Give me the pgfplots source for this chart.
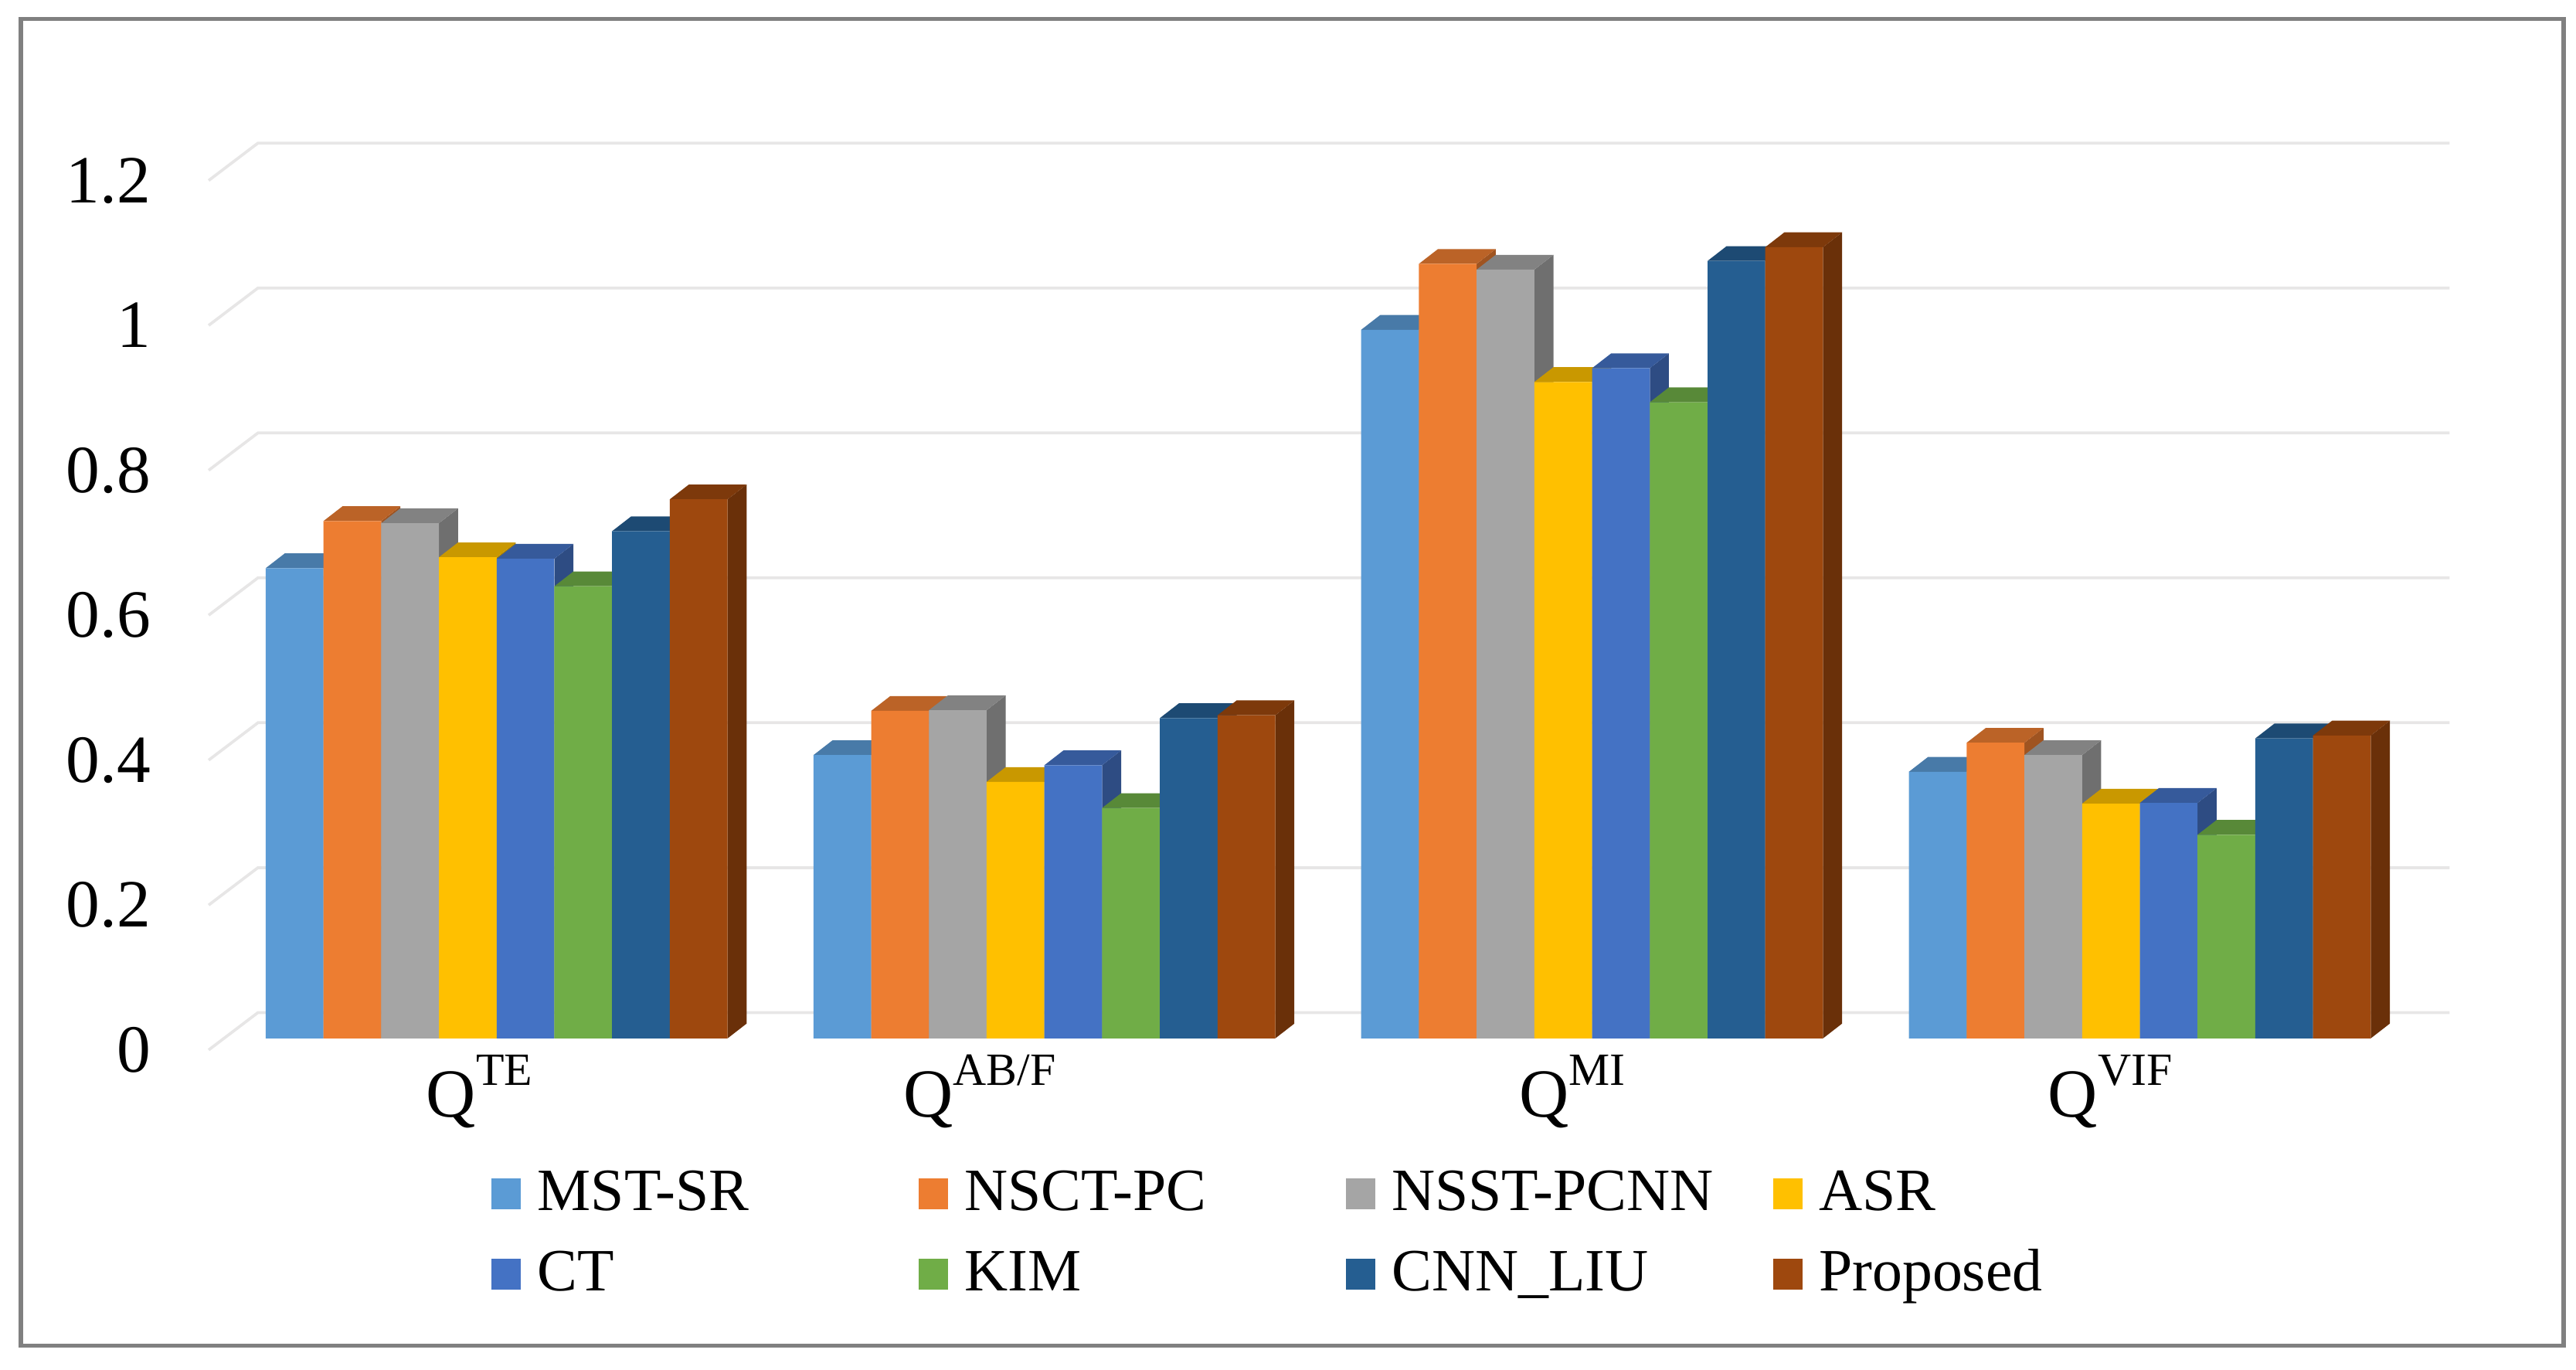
\documentclass[border=0pt]{standalone}
\usepackage{fontspec}
\setmainfont{Liberation Serif}
\usepackage{pgfplots}
\usepackage{pgfplotstable}
\pgfplotsset{compat=1.18}

\definecolor{cmst}{HTML}{5B9BD5}
\definecolor{cnsct}{HTML}{ED7D31}
\definecolor{cnsst}{HTML}{A5A5A5}
\definecolor{casr}{HTML}{FFC000}
\definecolor{cct}{HTML}{4472C4}
\definecolor{ckim}{HTML}{70AD47}
\definecolor{ccnn}{HTML}{255E91}
\definecolor{cprop}{HTML}{9E480E}
\definecolor{gridc}{HTML}{E7E6E6}

\pgfplotstableread{
group mst   nsct  nsst  asr   ct    kim   cnn   prop
0     0.649 0.714 0.711 0.664 0.662 0.624 0.700 0.744
1     0.391 0.452 0.453 0.354 0.377 0.318 0.442 0.446
2     0.978 1.069 1.061 0.906 0.925 0.878 1.073 1.092
3     0.368 0.408 0.391 0.324 0.325 0.281 0.414 0.418
}\scores

\newcommand{\barw}{0.1054}
\newcommand{\depthx}{0.0348}
\newcommand{\depthy}{0.0204}

% top and side face of one bar: column, slot in group, colour, row
\newcommand{\faces}[4]{%
  \pgfplotstablegetelem{#4}{#1}\of\scores
  \let\val\pgfplotsretval
  \pgfmathsetmacro\xl{#4+(#2-3.5)*\barw-\barw/2}
  \pgfmathsetmacro\xr{\xl+\barw}
  \pgfmathsetmacro\xlb{\xl+\depthx}
  \pgfmathsetmacro\xrb{\xr+\depthx}
  \pgfmathsetmacro\valb{\val+\depthy}
  \addplot[fill=#3!67!black,draw=none,forget plot] coordinates
    {(\xr,0) (\xrb,\depthy) (\xrb,\valb) (\xr,\val)} --cycle;
  \addplot[fill=#3!79!black,draw=none,forget plot] coordinates
    {(\xl,\val) (\xr,\val) (\xrb,\valb) (\xlb,\valb)} --cycle;
}
% column, slot in group, colour
\newcommand{\series}[3]{%
  \faces{#1}{#2}{#3}{0}\faces{#1}{#2}{#3}{1}\faces{#1}{#2}{#3}{2}\faces{#1}{#2}{#3}{3}
  \addplot[ybar,bar width=\barw,bar shift={(#2-3.5)*\barw},fill=#3,draw=none]
    table[x=group,y=#1]{\scores};
}
\newcommand{\wall}[1]{%
  \pgfmathsetmacro\ya{#1-0.016}
  \pgfmathsetmacro\yb{#1+0.0356}
  \addplot[gridc,line width=0.5pt,forget plot] coordinates
    {(-0.5258,\ya) (-0.4358,\yb) (3.5654,\yb)};
}
\newcommand{\qlabel}[2]{Q\raisebox{0.19cm}{\fontsize{8}{8}\selectfont #1}\hspace*{#2}}

\begin{document}
\begin{tikzpicture}
\path[use as bounding box] (0,0) rectangle (15.68,8.335);
\draw[color=gray,line width=0.7pt] (0.127,0.145) rectangle (15.605,8.22);
\begin{axis}[
    at={(1.27cm,2.015cm)},
    anchor=south west,
    scale only axis,
    width=13.64cm,
    height=5.5125cm,
    xmin=-0.5258,xmax=3.5654,
    ymin=0,ymax=1.25,
    clip=false,
    axis line style={draw=none},
    tick style={draw=none},
    xtick={0,1,2,3},
    xticklabels={\qlabel{TE}{0.21cm},\qlabel{AB/F}{0.79cm},\qlabel{MI}{0.24cm},\qlabel{VIF}{0.36cm}},
    xticklabel style={font=\fontsize{11.9}{14}\selectfont,anchor=base,yshift=-0.477cm},
    typeset ticklabels with strut,
    ytick={0,0.2,0.4,0.6,0.8,1,1.2},
    /pgf/number format/assume math mode=true,
    yticklabel style={font=\fontsize{11.7}{14}\selectfont,anchor=east,xshift=-0.23cm,yshift=-0.107cm},
    legend columns=4,
    legend cell align=left,
    legend style={
      at={(0.118,-0.1176)},anchor=north west,draw=none,fill=none,
      font=\fontsize{10.4}{12}\selectfont,
      nodes={text width=2.22cm,inner xsep=0.1cm,text height=0.25cm,text depth=0.05cm},
      /tikz/row sep=0.05cm,
    },
    legend image code/.code={\fill[#1] (0cm,-0.095cm) rectangle (0.18cm,0.095cm);},
]
\wall{0}\wall{0.2}\wall{0.4}\wall{0.6}\wall{0.8}\wall{1}\wall{1.2}
\series{mst}{0}{cmst}
\addlegendentry{MST-SR}
\series{nsct}{1}{cnsct}
\addlegendentry{NSCT-PC}
\series{nsst}{2}{cnsst}
\addlegendentry{NSST-PCNN}
\series{asr}{3}{casr}
\addlegendentry{ASR}
\series{ct}{4}{cct}
\addlegendentry{CT}
\series{kim}{5}{ckim}
\addlegendentry{KIM}
\series{cnn}{6}{ccnn}
\addlegendentry{CNN\_LIU}
\series{prop}{7}{cprop}
\addlegendentry{Proposed}
\end{axis}
\end{tikzpicture}
\end{document}
